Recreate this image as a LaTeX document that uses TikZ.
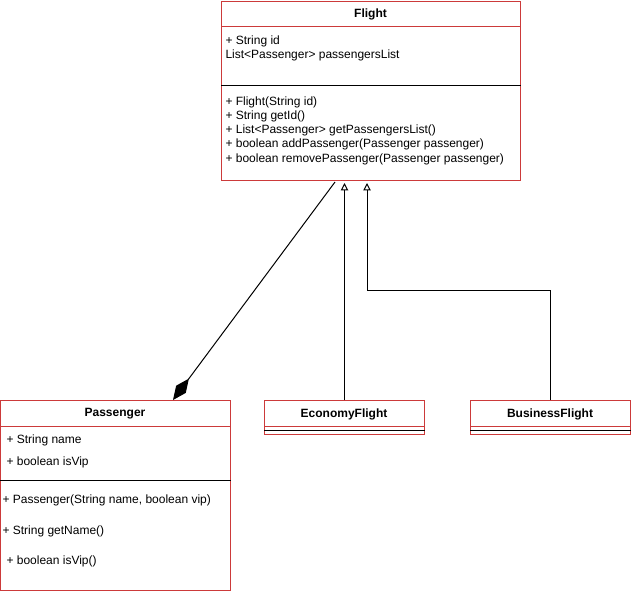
\documentclass[tikz,border=0pt]{standalone}
\usepackage{fontspec}
\setmainfont{Liberation Sans}
\usepackage{tikz}
\usetikzlibrary{arrows.meta,calc}
\definecolor{BoxRed}{RGB}{204,58,58}

\begin{document}
\begin{tikzpicture}[x=0.75pt,y=-0.75pt,line width=0.75pt,
  font=\fontsize{9}{11}\selectfont,
  classbox/.style={draw=BoxRed,inner sep=0pt,anchor=north west},
  member/.style={anchor=west,inner sep=0pt},
  classname/.style={inner sep=0pt,font=\fontsize{9}{11}\selectfont\bfseries}]
  \useasboundingbox (0,0) rectangle (631,594);
  % Flight
  \node[classbox,minimum width=224.25pt,minimum height=134.25pt] (flight) at (221,1) {};
  \node[classname] (flightName) at (370.5,14) {Flight};
  \draw[BoxRed] ($(flight.north west)+(0,25)$) -- ($(flight.north east)+(0,25)$);
  \draw ($(flight.north west)+(0,84)$) -- ($(flight.north east)+(0,84)$);
  \node[member] (flightId) at (225,41) {+ String id};
  \node[member] (flightList) at (225,55) {List<Passenger> passengersList};
  \node[member] (flightCtor) at (225,102) {+ Flight(String id)};
  \node[member] (flightGetId) at (225,116) {+ String getId()};
  \node[member] (flightGetList) at (225,130) {+ List<Passenger> getPassengersList()};
  \node[member] (flightAdd) at (225,144) {+ boolean addPassenger(Passenger passenger)};
  \node[member] (flightRemove) at (225,159) {+ boolean removePassenger(Passenger passenger)};
  % Passenger
  \node[classbox,minimum width=172.5pt,minimum height=142.5pt] (passenger) at (0,400) {};
  \node[classname] (passengerName) at (115,414) {Passenger};
  \draw[BoxRed] ($(passenger.north west)+(0,26)$) -- ($(passenger.north east)+(0,26)$);
  \draw ($(passenger.north west)+(0,80)$) -- ($(passenger.north east)+(0,80)$);
  \node[member] (passengerStrName) at (6,440) {+ String name};
  \node[member] (passengerVip) at (6,462) {+ boolean isVip};
  \node[member] (passengerCtor) at (2,500) {+ Passenger(String name, boolean vip)};
  \node[member] (passengerGetName) at (2,531) {+ String getName()};
  \node[member] (passengerIsVip) at (6,561) {+ boolean isVip()};
  % EconomyFlight
  \node[classbox,minimum width=120pt,minimum height=25.5pt] (economy) at (264,400) {};
  \node[classname] (economyName) at (344,414) {EconomyFlight};
  \draw[BoxRed] ($(economy.north west)+(0,26)$) -- ($(economy.north east)+(0,26)$);
  \draw ($(economy.north west)+(0,30)$) -- ($(economy.north east)+(0,30)$);
  % BusinessFlight
  \node[classbox,minimum width=120pt,minimum height=25.5pt] (business) at (470,400) {};
  \node[classname] (businessName) at (550,414) {BusinessFlight};
  \draw[BoxRed] ($(business.north west)+(0,26)$) -- ($(business.north east)+(0,26)$);
  \draw ($(business.north west)+(0,30)$) -- ($(business.north east)+(0,30)$);
  % relations
  \draw[-{Diamond[length=20pt,width=9pt]}] ($(flight.south west)+(114,1)$) -- ($(passenger.north west)+(173,0)$);
  \draw[-{Triangle[open,length=5.5pt,width=5.5pt]}] (economy.north) -- ($(economy.north |- flight.south)+(0,2)$);
  \draw[-{Triangle[open,length=5.5pt,width=5.5pt]}] (business.north) -- ++(0,-110) -| ($(flight.south west)+(146,2)$);
\end{tikzpicture}
\end{document}
